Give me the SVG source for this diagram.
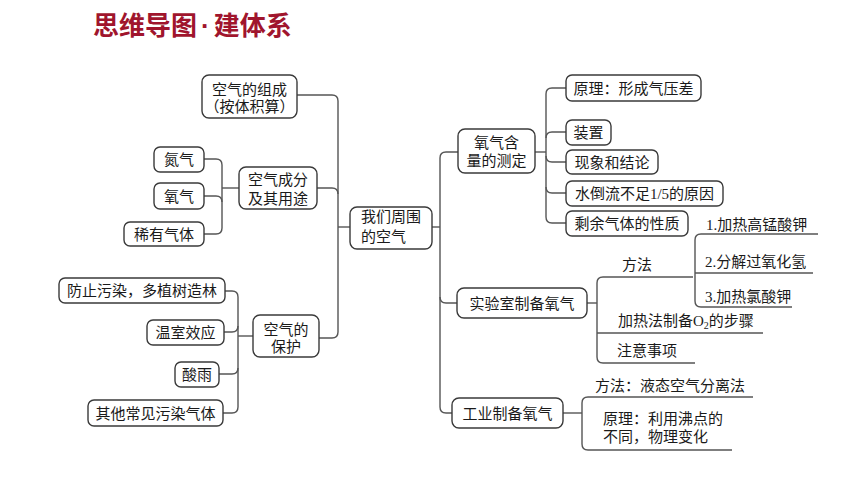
<svg xmlns="http://www.w3.org/2000/svg" width="860" height="484" viewBox="0 0 860 484">
<style>
.t{font-family:"Noto Sans CJK SC","Noto Sans",sans-serif;font-size:15px;fill:#1a1a1a}
.c{text-anchor:middle}
.s{font-family:"Liberation Serif",serif}
.box{fill:#fff;stroke:#3a3a3a;stroke-width:1.4}
.ln{fill:none;stroke:#555;stroke-width:1.4}
.title{font-family:"Noto Sans CJK SC",sans-serif;font-size:26px;font-weight:bold;fill:#a0152d}
</style>
<rect width="860" height="484" fill="#fff"/>
<text class="title" x="93" y="35">思维导图<tspan font-family="Liberation Sans" dx="4">·</tspan><tspan dx="4">建体系</tspan></text>

<g id="connectors">
<path class="ln" d="M297,95 H332 Q338,95 338,101 V332 Q338,338 332,338 H319"/>
<path class="ln" d="M317,188 H332 Q338,188 338,194"/>
<path class="ln" d="M338,227 H350"/>
<path class="ln" d="M204,159 H216 Q222,159 222,165 V228 Q222,234 216,234 H204"/>
<path class="ln" d="M204,196 H216 Q222,196 222,202"/>
<path class="ln" d="M222,188 H239"/>
<path class="ln" d="M225,291 H232 Q238,291 238,297 V407 Q238,413 232,413 H223"/>
<path class="ln" d="M224,332 H232 Q238,332 238,326"/>
<path class="ln" d="M219,374 H232 Q238,374 238,368"/>
<path class="ln" d="M238,336 H253"/>
<path class="ln" d="M432,227 H440"/>
<path class="ln" d="M458,152 H446 Q440,152 440,158 V407 Q440,413 446,413 H452"/>
<path class="ln" d="M440,297 Q440,303 446,303 H457"/>
<path class="ln" d="M535,152 H546"/>
<path class="ln" d="M566,88 H552 Q546,88 546,94 V217 Q546,223 552,223 H566"/>
<path class="ln" d="M566,132 H552 Q546,132 546,138"/>
<path class="ln" d="M566,162 H552 Q546,162 546,156"/>
<path class="ln" d="M566,193 H552 Q546,193 546,187"/>
<path class="ln" d="M587,303 H597"/>
<path class="ln" d="M693,277 H603 Q597,277 597,283 V357 Q597,363 603,363 H695"/>
<path class="ln" d="M597,333 H763"/>
<path class="ln" d="M818,234 H701 Q695,234 695,240 V301 Q695,307 701,307 H792"/>
<path class="ln" d="M695,273 H813"/>
<path class="ln" d="M563,413 H582"/>
<path class="ln" d="M753,397 H588 Q582,397 582,403 V444 Q582,450 588,450 H732"/>
</g>

<g id="center"><rect class="box" x="350" y="207" width="82" height="42" rx="7"/>
<text class="t" x="361" y="222">我们周围<tspan x="361" dy="20">的空气</tspan></text></g>

<g id="compose"><rect class="box" x="202" y="75" width="95" height="43" rx="7"/>
<text class="t c" x="249.5" y="95">空气的组成<tspan x="249.5" dy="17">（按体积算）</tspan></text></g>

<g id="component"><rect class="box" x="239" y="167" width="78" height="42" rx="7"/>
<text class="t c" x="278" y="185">空气成分<tspan x="278" dy="19">及其用途</tspan></text></g>

<g id="n2"><rect class="box" x="154" y="147" width="50" height="25" rx="6"/><text class="t c" x="179" y="165">氮气</text></g>
<g id="o2"><rect class="box" x="154" y="183" width="50" height="26" rx="6"/><text class="t c" x="179" y="201.5">氧气</text></g>
<g id="rare"><rect class="box" x="124" y="222" width="80" height="24" rx="6"/><text class="t c" x="164" y="239.5">稀有气体</text></g>

<g id="protect"><rect class="box" x="253" y="315" width="66" height="42" rx="7"/>
<text class="t c" x="286" y="335">空气的<tspan x="286" dy="17">保护</tspan></text></g>

<g id="prevent"><rect class="box" x="59" y="278" width="166" height="25" rx="6"/><text class="t c" x="142" y="296">防止污染，多植树造林</text></g>
<g id="greenhouse"><rect class="box" x="147" y="320" width="77" height="25" rx="6"/><text class="t c" x="185.5" y="338">温室效应</text></g>
<g id="acid"><rect class="box" x="175" y="362" width="44" height="25" rx="6"/><text class="t c" x="197" y="380">酸雨</text></g>
<g id="other"><rect class="box" x="88" y="400" width="135" height="26" rx="6"/><text class="t c" x="155.5" y="418.5">其他常见污染气体</text></g>

<g id="measure"><rect class="box" x="458" y="129" width="77" height="44" rx="7"/>
<text class="t c" x="496.5" y="148">氧气含<tspan x="496.5" dy="18">量的测定</tspan></text></g>

<g id="r1"><rect class="box" x="566" y="75" width="135" height="26" rx="6"/><text class="t c" x="633.5" y="93.5">原理：形成气压差</text></g>
<g id="r2"><rect class="box" x="566" y="120" width="45" height="25" rx="6"/><text class="t c" x="588.5" y="138">装置</text></g>
<g id="r3"><rect class="box" x="566" y="150" width="92" height="24" rx="6"/><text class="t c" x="612" y="167.5">现象和结论</text></g>
<g id="r4"><rect class="box" x="566" y="181" width="157" height="25" rx="6"/><text class="t c" x="644.5" y="199">水倒流不足<tspan class="s">1/5</tspan>的原因</text></g>
<g id="r5"><rect class="box" x="566" y="211" width="122" height="25" rx="6"/><text class="t c" x="627" y="229">剩余气体的性质</text></g>

<g id="lab"><rect class="box" x="457" y="288" width="130" height="30" rx="7"/><text class="t c" x="522" y="308.5">实验室制备氧气</text></g>
<g id="ind"><rect class="box" x="452" y="398" width="111" height="30" rx="7"/><text class="t c" x="507.5" y="418.5">工业制备氧气</text></g>

<g id="labels">
<text class="t" x="622" y="270">方法</text>
<text class="t" x="706" y="229.5"><tspan class="s">1.</tspan>加热高锰酸钾</text>
<text class="t" x="705" y="267"><tspan class="s">2.</tspan>分解过氧化氢</text>
<text class="t" x="705" y="302"><tspan class="s">3.</tspan>加热氯酸钾</text>
<text class="t" x="618" y="325.5">加热法制备<tspan class="s">O</tspan><tspan class="s" font-size="10" dy="3">2</tspan><tspan dy="-3">的步骤</tspan></text>
<text class="t" x="617" y="356">注意事项</text>
<text class="t" x="595" y="391">方法：液态空气分离法</text>
<text class="t" x="603" y="424">原理：利用沸点的<tspan x="603" dy="18">不同，物理变化</tspan></text>
</g>
</svg>
